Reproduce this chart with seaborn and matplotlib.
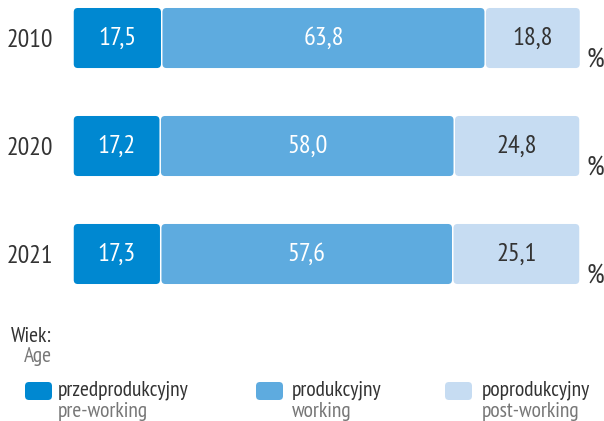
import numpy as np
import pandas as pd
import seaborn as sns
import matplotlib.pyplot as plt
from matplotlib.patches import FancyBboxPatch

# dane: struktura ludnosci wg ekonomicznych grup wieku (%)
lata = ["2010", "2020", "2021"]
przed = [17.5, 17.2, 17.3]
prod = [63.8, 58.0, 57.6]
poprod = [18.8, 24.8, 25.1]
grupy_pl = ["przedprodukcyjny", "produkcyjny", "poprodukcyjny"]
grupy_en = ["pre-working", "working", "post-working"]

kolory = ["#0088d1", "#5eabdf", "#c6dcf2"]
kolory_tekstu = ["white", "white", "#333333"]

sns.set_style("white")
plt.rcParams['font.family'] = ['PT Sans Narrow', 'Roboto Condensed', 'Archivo Narrow', 'DejaVu Sans']

W, H = 604, 421
fig = plt.figure(figsize=(W / 100, H / 100), dpi=100)
ax = fig.add_axes([73 / W, 1 - 300 / H, 507 / W, 300 / H])

dane = pd.DataFrame({
    "rok": lata * 3,
    "grupa": np.repeat(grupy_pl, len(lata)),
    "udzial": przed + prod + poprod,
})

y_min, y_max = -0.352, 2.426
ux = 100 / 507            # jednostki x na piksel
uy = (y_max - y_min) / 300  # jednostki y na piksel
aspekt = uy / ux

lewo = np.zeros(len(lata))
for grupa, kolor, kt in zip(grupy_pl, kolory, kolory_tekstu):
    sub = dane[dane.grupa == grupa]
    n0 = len(ax.patches)
    sns.barplot(data=sub, x="udzial", y="rok", order=lata, orient="h",
                color=kolor, saturation=1, width=0.556, errorbar=None, ax=ax)
    nowe = list(ax.patches[n0:])
    for i, (p, v) in enumerate(zip(nowe, sub.udzial)):
        y0, h = p.get_y(), p.get_height()
        p.remove()
        gap = 0.75 * ux
        box = FancyBboxPatch((lewo[i] + gap, y0), v - 2 * gap, h,
                             boxstyle="round,pad=0,rounding_size=0.8",
                             mutation_aspect=aspekt, fc=kolor, ec="none",
                             clip_on=False)
        ax.add_patch(box)
        ax.text(lewo[i] + v / 2, y0 + h / 2, f"{v:.1f}".replace(".", ","),
                ha="center", va="center", fontsize=19, color=kt)
    lewo += sub.udzial.values

for i in range(len(lata)):
    ax.text(100 + 6 * ux, i + 0.556 / 2 - 1 * uy, "%", ha="left", va="baseline",
            fontsize=20, color="#333333", clip_on=False)

ax.set_xlim(0, 100)
ax.set_ylim(y_max, y_min)
ax.set_xticks([])
ax.set_xlabel("")
ax.set_ylabel("")
ax.tick_params(axis="y", length=0, pad=14, labelsize=18.5, labelcolor="#333333")
sns.despine(ax=ax, left=True, bottom=True)

# legenda
fig.text(52 / W, 1 - 342 / H, "Wiek:", ha="right", va="baseline",
         fontsize=15.5, color="#333333")
fig.text(52 / W, 1 - 362 / H, "Age", ha="right", va="baseline",
         fontsize=15.5, color="#777777")

kw_x = [25, 256, 445]
tx_x = [58, 292, 482]
for kx, tx, kolor, pl, en in zip(kw_x, tx_x, kolory, grupy_pl, grupy_en):
    fig.add_artist(FancyBboxPatch((kx / W, 1 - 400 / H), 27 / W, 18 / H,
                                  boxstyle=f"round,pad=0,rounding_size={4 / W}",
                                  mutation_aspect=W / H, fc=kolor, ec="none",
                                  transform=fig.transFigure))
    fig.text(tx / W, 1 - 395 / H, pl, ha="left", va="baseline",
             fontsize=15.5, color="#333333")
    fig.text(tx / W, 1 - 417 / H, en, ha="left", va="baseline",
             fontsize=15.5, color="#777777")

fig.savefig("out.png", dpi=100)
